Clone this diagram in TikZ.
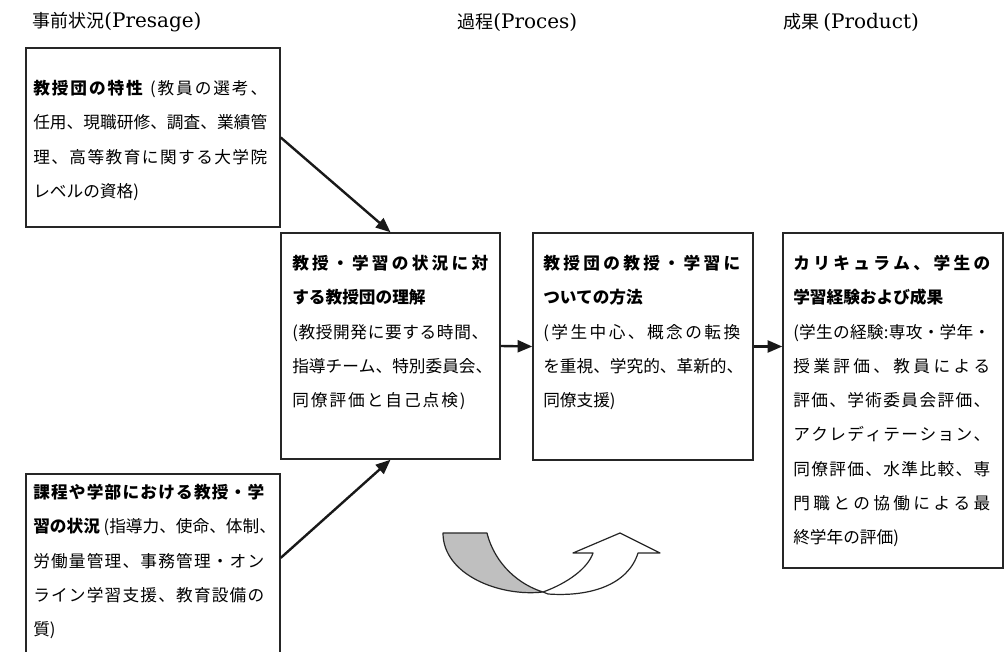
\documentclass[tikz,border=0pt]{standalone}
\usepackage{fontspec}
\setmainfont{Noto Sans CJK JP}
\newfontfamily\latf{DejaVu Serif}
\usetikzlibrary{arrows.meta,calc}
\def\jlend{\jlend}
\def\jl#1{\jlA#1\jlend}
\def\jlA#1#2{#1\ifx\jlend#2\else\hskip0pt plus1fil\expandafter\jlA\expandafter#2\fi}
\newcommand\jline[2]{\makebox[#1][s]{#2}}
\begin{document}
\begin{tikzpicture}[x=0.75pt,y=-0.75pt,
  box/.style={draw=black!85,line width=1.1pt,inner sep=0pt},
  txt/.style={anchor=north west,inner sep=0pt,align=left,text=black,
    font=\fontsize{12.5pt}{25.7pt}\selectfont},
  hdr/.style={anchor=west,inner sep=0pt,text=black,font=\fontsize{13.5pt}{16pt}\selectfont},
  conn/.style={draw=black!90,line width=1.8pt,-{Triangle[length=11pt,width=9pt]}},
  curv/.style={draw=black!85,line width=0.9pt,line join=round}]
\useasboundingbox (0,0) rectangle (1007,652);
\fill[white] (0,0) rectangle (1007,652);

% headers
\node[hdr] (h1) at (32,22) {事前状況{\latf\fontsize{15pt}{16pt}\selectfont(Presage)}};
\node[hdr] (h2) at (457,22) {過程{\latf\fontsize{15pt}{16pt}\selectfont(Proces)}};
\node[hdr] (h3) at (783,22) {成果 {\latf\fontsize{15pt}{16pt}\selectfont(Product)}};

% boxes
\node[box,minimum width=190.5pt,minimum height=134.25pt] (A) at (153,137.5) {};
\begin{scope}
\clip (0,0) rectangle (1007,652);
\node[box,minimum width=190.5pt,minimum height=169.5pt] (B) at (153,587) {};
\end{scope}
\node[box,minimum width=164.25pt,minimum height=169.5pt] (C) at (390.5,346) {};
\node[box,minimum width=165pt,minimum height=170.25pt] (D) at (643,346.5) {};
\node[box,minimum width=165pt,minimum height=251.25pt] (E) at (893,400.5) {};

% texts
\node[txt] (At) at (33,80) {%
\jline{175.5pt}{\bfseries\jl{教授団の特性}\hskip 4pt plus1fil\mdseries\jl{(教員の選考、}}\\
\jline{175.5pt}{\jl{任用、現職研修、調査、業績管}}\\
\jline{175.5pt}{\jl{理、高等教育に関する大学院}}\\
レベルの資格)};

\node[txt] (Bt) at (33,484) {%
\jline{173.25pt}{\bfseries\jl{課程や学部における教授・学}}\\
{\bfseries 習の状況} (指導力、使命、体制、\\
\jline{173.25pt}{\jl{労働量管理、事務管理・オン}}\\
\jline{173.25pt}{\jl{ライン学習支援、教育設備の}}\\
質)};

\node[txt] (Ct) at (292,255) {%
\jline{147pt}{\bfseries\jl{教授・学習の状況に対}}\\
{\bfseries する教授団の理解}\\
\jline{147pt}{\jl{(教授開発に要する時間、}}\\
\jline{147pt}{\jl{指導チーム、特別委員会、}}\\
\jline{130pt}{\jl{同僚評価と自己点検)}}};

\node[txt] (Dt) at (543,255) {%
\jline{147.75pt}{\bfseries\jl{教授団の教授・学習に}}\\
{\bfseries ついての方法}\\
\jline{147.75pt}{\jl{(学生中心、概念の転換}}\\
\jline{147.75pt}{\jl{を重視、学究的、革新的、}}\\
同僚支援)};

\node[txt] (Et) at (793,255) {%
\jline{147.75pt}{\bfseries\jl{カリキュラム、学生の}}\\
{\bfseries 学習経験および成果}\\
\jline{147.75pt}{\jl{(学生の経験:専攻・学年・}}\\
\jline{147.75pt}{\jl{授業評価、教員による}}\\
\jline{147.75pt}{\jl{評価、学術委員会評価、}}\\
\jline{147.75pt}{\jl{アクレディテーション、}}\\
\jline{147.75pt}{\jl{同僚評価、水準比較、専}}\\
\jline{147.75pt}{\jl{門職との協働による最}}\\
終学年の評価)};

% connectors
\draw[conn] (A.east) -- (C.north);
\draw[conn] ($(B.north east)!0.372!(B.south east)$) -- (C.south);
\draw[conn] (C.east) -- (D.west);
\draw[conn] (D.east) -- (D.east -| E.west);

% curved cycle arrow
\filldraw[curv,fill=white] (543,592) .. controls (568,583) and (588,568) .. (593,553)
  -- (573,553) -- (620,533) -- (660,553) -- (638,553)
  .. controls (628,585) and (590,597) .. (548,594) -- cycle;
\filldraw[curv,fill=black!25] (443,533) -- (487,533)
  .. controls (495,565) and (520,585) .. (543,592)
  .. controls (500,597) and (443,575) .. (443,533) -- cycle;
\end{tikzpicture}
\end{document}
